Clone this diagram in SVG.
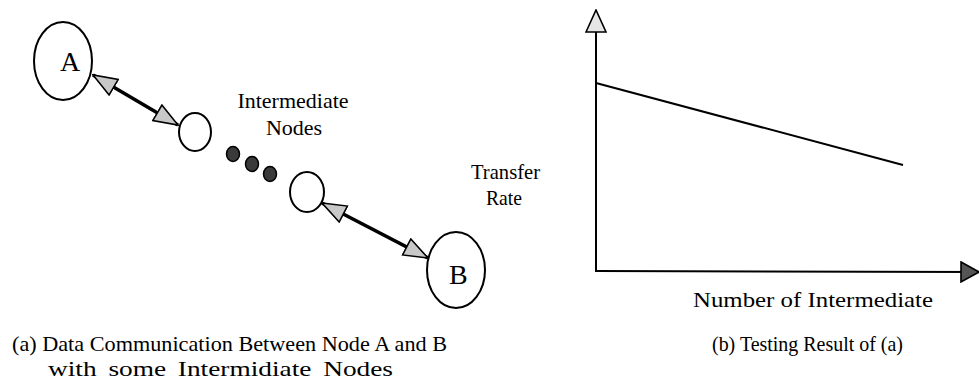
<svg xmlns="http://www.w3.org/2000/svg" width="979" height="389" viewBox="0 0 979 389">
<style>
  .t { font-family: "Liberation Serif", "Times New Roman", serif; font-size: 22px; fill: #000; }
  .cap { font-size: 21px; }
  .big { font-size: 28px; }
  .node { fill: none; stroke: #000; stroke-width: 2; }
  .dot { fill: #3a3a3a; stroke: #000; stroke-width: 1.5; }
  .link { stroke: #000; stroke-width: 3.5; fill: none; }
  .axis { stroke: #000; stroke-width: 2; fill: none; }
</style>
<defs>
  <marker id="hd" viewBox="0 0 26 20" markerUnits="userSpaceOnUse" markerWidth="26" markerHeight="20" refX="25" refY="10" orient="auto-start-reverse">
    <path d="M1,1 L25,10 L1,19 Z" fill="#c8c8c8" stroke="#000" stroke-width="1.6"/>
  </marker>
  <marker id="hdUp" viewBox="0 0 24 22" markerUnits="userSpaceOnUse" markerWidth="24" markerHeight="22" refX="23" refY="11" orient="auto">
    <path d="M1,1 L23,11 L1,21 Z" fill="#e6e6e6" stroke="#000" stroke-width="1.6"/>
  </marker>
  <marker id="hdRt" viewBox="0 0 20 22" markerUnits="userSpaceOnUse" markerWidth="20" markerHeight="22" refX="19" refY="11" orient="auto">
    <path d="M1,1 L19,11 L1,21 Z" fill="#555" stroke="#000" stroke-width="1.6"/>
  </marker>
</defs>

<g id="connectors">
  <line class="link" x1="93" y1="75" x2="178" y2="125" marker-start="url(#hd)" marker-end="url(#hd)"/>
  <line class="link" x1="322" y1="203" x2="428" y2="258" marker-start="url(#hd)" marker-end="url(#hd)"/>
</g>

<g id="nodeA">
  <ellipse class="node" cx="63" cy="61" rx="29" ry="39"/>
  <text class="t big" x="60" y="71">A</text>
</g>
<g id="node1">
  <ellipse class="node" cx="195" cy="132" rx="16" ry="19"/>
</g>
<g id="dots">
  <ellipse class="dot" cx="233" cy="154" rx="6.5" ry="7.5"/>
  <ellipse class="dot" cx="252" cy="164" rx="6.5" ry="7.5"/>
  <ellipse class="dot" cx="270" cy="174" rx="6.5" ry="7.5"/>
</g>
<g id="node2">
  <ellipse class="node" cx="307" cy="192" rx="17" ry="20"/>
</g>
<g id="nodeB">
  <ellipse class="node" cx="456" cy="270" rx="29" ry="38"/>
  <text class="t big" x="449" y="284">B</text>
</g>
<g id="label-intermediate">
  <text class="t" x="293" y="108" text-anchor="middle">Intermediate</text>
  <text class="t" x="294" y="135" text-anchor="middle">Nodes</text>
</g>

<g id="chart">
  <line class="axis" x1="596" y1="272" x2="596" y2="10" marker-end="url(#hdUp)"/>
  <line class="axis" x1="596" y1="271" x2="979" y2="272" marker-end="url(#hdRt)"/>
  <line class="axis" x1="596" y1="83" x2="903" y2="165"/>
  <text class="t" x="471" y="179" textLength="69" lengthAdjust="spacingAndGlyphs">Transfer</text>
  <text class="t" x="486" y="205" textLength="36" lengthAdjust="spacingAndGlyphs">Rate</text>
  <text class="t" x="693" y="307" textLength="240" lengthAdjust="spacingAndGlyphs">Number of Intermediate</text>
</g>

<g id="captions">
  <text class="t cap" x="12" y="351" textLength="435" lengthAdjust="spacingAndGlyphs">(a) Data Communication Between Node A and B</text>
  <text class="t" x="48" y="376" word-spacing="4" textLength="345" lengthAdjust="spacingAndGlyphs">with some Intermidiate Nodes</text>
  <text class="t cap" x="712" y="351" textLength="191" lengthAdjust="spacingAndGlyphs">(b) Testing Result of (a)</text>
</g>
</svg>
